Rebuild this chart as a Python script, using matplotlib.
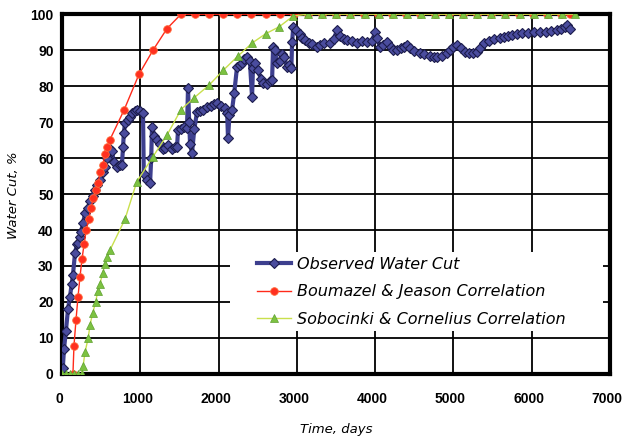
import matplotlib.pyplot as plt
from matplotlib import font_manager
from matplotlib.patches import Rectangle
from matplotlib.transforms import ScaledTranslation

# observed water cut (days, %)
obs_t = [0, 10, 26, 50, 77, 102, 125, 140, 166, 190, 204, 225, 243, 270, 295, 330, 360, 390,
         420, 450, 485, 520, 550, 570, 585, 610, 640, 660, 700, 740, 765, 780, 790, 805, 840,
         870, 895, 930, 960, 1000, 1035, 1045, 1080, 1125, 1140, 1150, 1180, 1214, 1250, 1290,
         1316, 1350, 1400, 1440, 1470, 1482, 1520, 1560, 1597, 1610, 1625, 1636, 1661, 1690,
         1725, 1760, 1800, 1853, 1900, 1940, 1981, 2030, 2083, 2110, 2121, 2140, 2172, 2200,
         2236, 2270, 2300, 2330, 2364, 2400, 2428, 2440, 2466, 2505, 2540, 2569, 2620, 2660,
         2684, 2697, 2720, 2748, 2780, 2812, 2840, 2876, 2900, 2930, 2940, 2955, 2990, 3040,
         3070, 3105, 3150, 3195, 3260, 3300, 3350, 3425, 3470, 3515, 3550, 3600, 3640, 3700,
         3770, 3830, 3898, 3960, 4000, 4025, 4060, 4100, 4150, 4200, 4235, 4280, 4330, 4370,
         4405, 4450, 4500, 4575, 4630, 4700, 4750, 4790, 4850, 4915, 4960, 5000, 5045, 5100,
         5150, 5200, 5255, 5300, 5340, 5385, 5450, 5520, 5600, 5650, 5700, 5750, 5815, 5880,
         5950, 6030, 6110, 6180, 6250, 6325, 6380, 6420, 6455, 6490]
obs_wc = [0, 1.5, 7, 12, 18, 21.5, 25, 27.5, 33.5, 36, 36.5, 38, 39.5, 42, 44.7, 46, 48, 49.5,
          51, 52.5, 54, 56, 57.5, 60, 61.6, 62.5, 62, 59, 57.5, 58, 58, 63, 67, 69.7, 70.5,
          71.5, 72.4, 73, 73.5, 73, 72.4, 55.7, 54, 53, 60, 68.7, 66, 65, 64, 62.5,
          62.7, 63.5, 62.5, 63, 63, 67.8, 68, 68.5, 68.3, 79.4, 70, 64, 61.4, 68,
          72.8, 73, 73.5, 74.2, 74.5, 75, 75.2, 74.5, 73.8, 72.5, 65.5, 72, 73.3, 78,
          85.3, 86, 86.5, 87.5, 88, 87, 77, 85, 86.3, 84.4, 82, 80.8, 80.5, 81.5,
          81.7, 91, 90, 86.3, 87, 89, 88, 85.3, 86, 85, 92.3, 96.5, 95.5, 94.6,
          93.5, 92.8, 92, 91.8, 90.8, 91.5, 92, 91.9, 93, 95.6, 94, 93, 92.8, 92.5,
          91.9, 92.5, 92.2, 92.5, 95, 93.3, 91, 91.5, 92.2, 91, 90, 90, 90.5, 91,
          91.4, 90.5, 89.8, 89.2, 88.8, 88.3, 88, 88, 88.3, 89.2, 90, 90.8, 91.4, 90.5,
          89.6, 89.3, 89.2, 89.5, 90.5, 91.9, 92.5, 93, 93.3, 93.6, 94, 94.3, 94.6, 94.8,
          94.8, 95, 95, 95, 95.3, 95.6, 96, 96.5, 97, 96]

# Boumazel & Jeason correlation
bj_t = [140, 153, 179, 205, 230, 256, 282, 310, 340, 370, 400, 430, 460, 490, 520, 550, 580,
        610, 792, 984, 1163, 1342, 1521, 1700, 1880, 2060, 2240, 2420, 2600, 2780, 2960, 3140,
        3320, 3500, 3680, 3860, 4040, 4220, 4400, 4580, 4760, 4940, 5120, 5300, 5480, 5660,
        5840, 6020, 6200, 6380, 6490]
bj_wc = [0, 7.8, 15, 21.5, 27, 32, 36, 40, 43, 46, 49, 51, 53, 56, 58, 61, 63,
         65, 73.3, 83.3, 90, 96, 100, 100, 100, 100, 100, 100, 100, 100, 100, 100,
         100, 100, 100, 100, 100, 100, 100, 100, 100, 100, 100, 100, 100, 100,
         100, 100, 100, 100, 100]

# Sobocinki & Cornelius correlation
sc_t = [0, 50, 100, 150, 200, 250, 270, 294, 335, 358, 393, 431, 456, 485, 519, 550, 580, 613,
        805, 955, 1163, 1342, 1521, 1690, 1880, 2060, 2245, 2430, 2605, 2775, 2955, 3145, 3325,
        3505, 3685, 3865, 4045, 4225, 4405, 4585, 4765, 4945, 5125, 5305, 5485, 5665, 5845,
        6025, 6205, 6385, 6555]
sc_wc = [0, 0, 0, 0, 0, 0, 2.2, 6, 10, 13.6, 17, 20, 23, 25, 28, 30.5, 32.5, 34.4,
         43, 53.4, 60.4, 66.4, 73.5, 76.8, 80.3, 84.4, 88.3, 92, 94.6, 96.5, 99.5, 100, 100,
         100, 100, 100, 100, 100, 100, 100, 100, 100, 100, 100, 100, 100, 100,
         100, 100, 100, 100]

narrow = 'Liberation Sans Narrow'
try:
    font_manager.findfont(narrow, fallback_to_default=False)
except Exception:
    narrow = 'Liberation Sans'

fig = plt.figure(figsize=(6.23, 4.43), dpi=100)
ax = fig.add_axes([0.0995, 0.156, 0.8795, 0.812])

ax.plot(obs_t, obs_wc, color='#3d3f8e', lw=3, marker='D', ms=5,
        mfc='#4a4c9e', mec='#1c1c4c', mew=0.8, label='Observed Water Cut', zorder=3)
ax.plot(bj_t, bj_wc, color='#ff2a1a', lw=1, marker='o', ms=5.5,
        mfc='#ff3020', mec='#ff6a3a', mew=0.6, label='Boumazel & Jeason Correlation', zorder=4)
ax.plot(sc_t, sc_wc, color='#c9e04c', lw=1, marker='^', ms=6,
        mfc='#7cc241', mec='#5fa030', mew=0.5, label='Sobocinki & Cornelius Correlation', zorder=5)

ax.set_xlim(0, 7000)
ax.set_ylim(0, 100)
ax.set_xticks(range(0, 7001, 1000))
ax.set_yticks(range(0, 101, 10))
ax.grid(True, color='black', lw=1.3, zorder=0.5)
ax.set_axisbelow(True)
for s in ax.spines.values():
    s.set_linewidth(3)
ax.tick_params(length=0)
ax.tick_params(axis='x', pad=13)
ax.tick_params(axis='y', pad=6)
shift = ScaledTranslation(-3 / 100, 0, fig.dpi_scale_trans)
for lab in ax.get_xticklabels():
    lab.set_transform(lab.get_transform() + shift)
for lab in ax.get_xticklabels() + ax.get_yticklabels():
    lab.set_fontfamily(narrow)
    lab.set_fontweight('bold')
    lab.set_fontsize(10)

ax.set_xlabel('Time, days', fontstyle='italic', fontsize=9.5, labelpad=12)
fig.text(14 / 623, 0.56, 'Water Cut, %', rotation=90, fontstyle='italic', fontsize=9.5,
         ha='center', va='center')

# white area behind the legend hides the grid there
ax.add_patch(Rectangle((0.307, 0.12), 0.68, 0.22, transform=ax.transAxes,
                       facecolor='white', edgecolor='none', zorder=1))

leg = ax.legend(loc='center left', bbox_to_anchor=(0.356, 0.228), frameon=False,
                fontsize=11.5, handlelength=2.1, handletextpad=0.4,
                labelspacing=0.78, borderpad=0.0, borderaxespad=0.0)
for t in leg.get_texts():
    t.set_fontstyle('italic')
leg.set_zorder(6)

fig.savefig('out.png', dpi=100)
